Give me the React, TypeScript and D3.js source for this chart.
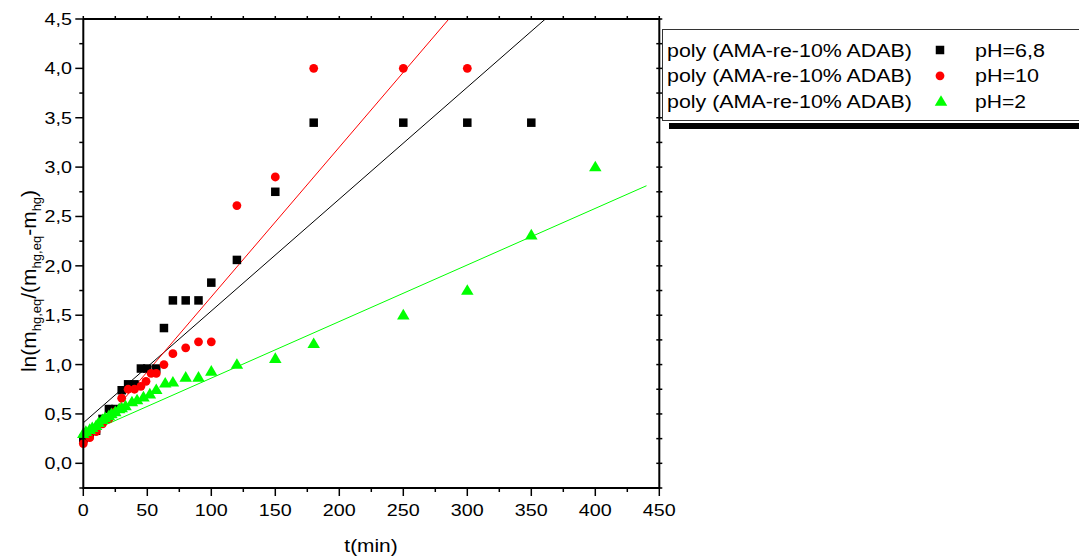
import * as d3 from 'd3';
import React from 'react';

// --------------------------------------------------------
// data
// --------------------------------------------------------
const seriesName = 'poly (AMA-re-10% ADAB)';

const tBlack = [0, 5, 10, 15, 20, 25, 30, 35, 40, 45, 50, 57, 63, 70, 80, 90, 100, 120, 150, 180, 250, 300, 350];
const vBlack = [0.25, 0.3, 0.33, 0.45, 0.55, 0.55, 0.74, 0.8, 0.8, 0.96, 0.96, 0.96, 1.37, 1.65, 1.65, 1.65, 1.83, 2.06, 2.75, 3.45, 3.45, 3.45, 3.45];

const tRed = [0, 5, 10, 15, 20, 25, 30, 35, 40, 45, 49, 53, 57, 63, 70, 80, 90, 100, 120, 150, 180, 250, 300];
const vRed = [0.2, 0.26, 0.32, 0.4, 0.45, 0.52, 0.66, 0.75, 0.75, 0.78, 0.83, 0.91, 0.91, 1.0, 1.11, 1.17, 1.23, 1.23, 2.61, 2.9, 4.0, 4.0, 4.0];

const tGreen = [0, 2, 5, 7, 10, 12, 15, 17, 20, 22, 25, 28, 30, 33, 38, 42, 47, 52, 57, 64, 70, 80, 90, 100, 120, 150, 180, 250, 300, 350, 400];
const vGreen = [0.3, 0.32, 0.34, 0.36, 0.38, 0.41, 0.44, 0.46, 0.48, 0.5, 0.52, 0.55, 0.56, 0.58, 0.62, 0.64, 0.67, 0.7, 0.745, 0.81, 0.82, 0.87, 0.87, 0.93, 1.0, 1.06, 1.21, 1.5, 1.75, 2.31, 3.0];

// linear fits: [intercept, slope, t end]
const fitBlack = [0.41, 0.01133, 450];
const fitRed = [0.17, 0.01516, 450];
const fitGreen = [0.29, 0.00573, 440];

const xTicks = [0, 50, 100, 150, 200, 250, 300, 350, 400, 450];
const yTicks = [0, 0.5, 1, 1.5, 2, 2.5, 3, 3.5, 4, 4.5];
const phLabels = ['pH=6,8', 'pH=10', 'pH=2'];
const phWidths = [70, 64, 51];

const FONT = 'Arial, "Liberation Sans", sans-serif';
const SX = 1.16; // the original text is rendered a bit wider than Arial

const x = d3.scaleLinear().domain([0, 450]).range([83.3, 659.3]);
const y = d3.scaleLinear().domain([-0.25, 4.5]).range([488, 19]);

const fmt = (v: number) => d3.format('.1f')(v).replace('.', ',');

// text stretched horizontally around its anchor
function T({ x: tx, y: ty, anchor = 'start', size = 17, children }: any) {
  return (
    <text transform={`translate(${tx},${ty}) scale(${SX},1)`} textAnchor={anchor}
      fontFamily={FONT} fontSize={size} fill="#000">{children}</text>
  );
}

function Square({ cx, cy, s = 8.5, fill = '#000' }: any) {
  return <rect x={cx - s / 2} y={cy - s / 2} width={s} height={s} fill={fill} />;
}
function Circle({ cx, cy, r = 4.4, fill = '#ff0000' }: any) {
  return <circle cx={cx} cy={cy} r={r} fill={fill} />;
}
function Tri({ cx, cy, s = 12.5, fill = '#00ff00' }: any) {
  const h = s * 0.85;
  return <path d={`M${cx},${cy - h * 0.6}L${cx + s / 2},${cy + h * 0.4}L${cx - s / 2},${cy + h * 0.4}Z`} fill={fill} />;
}

// fitted line, clipped at the top of the plot
function FitLine({ fit, color }: any) {
  const [a, b, tEnd] = fit;
  const tTop = (4.5 - a) / b;
  const t1 = Math.min(tEnd, tTop);
  return <line x1={x(0)} y1={y(a)} x2={x(t1)} y2={y(a + b * t1)} stroke={color} strokeWidth={1} />;
}

export default function App() {
  const xMinor = d3.range(0, 451, 25);
  const yMinor = d3.range(-0.25, 4.51, 0.25);
  const [x0, x1] = x.range();
  const [yb, yt] = y.range();

  return (
    <svg width={1079} height={556} style={{ position: 'absolute', left: 0, top: 0, background: '#fff' }}>
      {/* fit lines */}
      <FitLine fit={fitBlack} color="#000" />
      <FitLine fit={fitRed} color="#ff0000" />
      <FitLine fit={fitGreen} color="#00ff00" />

      {/* points */}
      {tBlack.map((t, i) => <Square key={'b' + i} cx={x(t)} cy={y(vBlack[i])} />)}
      {tRed.map((t, i) => <Circle key={'r' + i} cx={x(t)} cy={y(vRed[i])} />)}
      {tGreen.map((t, i) => <Tri key={'g' + i} cx={x(t)} cy={y(vGreen[i])} />)}

      {/* frame */}
      <g stroke="#000" strokeWidth={2} fill="none">
        <line x1={x0} y1={yb} x2={x1 + 1} y2={yb} />
        <line x1={x0} y1={yb + 1} x2={x0} y2={yt} />
        <line x1={x0} y1={yt} x2={x1 + 1} y2={yt} />
        <line x1={x1} y1={yt} x2={x1} y2={yb} />
      </g>

      {/* ticks */}
      <g stroke="#000" strokeWidth={1.5}>
        {xMinor.map((t) => {
          const major = t % 50 === 0;
          return <line key={'xt' + t} x1={x(t)} x2={x(t)} y1={yb} y2={yb + (major ? 8 : 4)} />;
        })}
        {xMinor.map((t) => <line key={'xtt' + t} x1={x(t)} x2={x(t)} y1={yt} y2={yt - 3} />)}
        {yMinor.map((v) => {
          const major = Math.abs(Math.round(v * 2) - v * 2) < 1e-6;
          return <line key={'yt' + v} x1={x0} x2={x0 - (major ? 8 : 4)} y1={y(v)} y2={y(v)} />;
        })}
        {yMinor.map((v) => <line key={'ytr' + v} x1={x1 - 3} x2={x1 + 3} y1={y(v)} y2={y(v)} />)}
      </g>

      {/* tick labels */}
      {xTicks.map((t) => (
        <T key={'xl' + t} x={x(t)} y={516} anchor="middle">{t}</T>
      ))}
      {yTicks.map((v) => (
        <T key={'yl' + v} x={72} y={y(v) + 6} anchor="end">{fmt(v)}</T>
      ))}

      {/* axis titles */}
      <T x={371} y={552} anchor="middle" size={18}>t(min)</T>
      <text transform="translate(36,281) rotate(-90)" textAnchor="middle" fontFamily={FONT} fontSize={21}>
        ln(m<tspan fontSize={13} dy={5}>hg,eq</tspan>
        <tspan dy={-5}>/(m</tspan><tspan fontSize={13} dy={5}>hg,eq</tspan>
        <tspan dy={-5}>-m</tspan><tspan fontSize={13} dy={5}>hg</tspan>
        <tspan dy={-5}>)</tspan>
      </text>

      {/* legend */}
      <rect x={669} y={123} width={412} height={6} fill="#000" />
      <rect x={662.5} y={29.5} width={420} height={91} fill="#fff" stroke="#333" strokeWidth={1} />
      <g fontFamily={FONT} fontSize={18} fill="#000">
        {phLabels.map((p, i) => {
          const cy = 50 + i * 25.8;
          return (
            <g key={'lg' + i}>
              <text x={667} y={cy + 6.5} textLength={245} lengthAdjust="spacingAndGlyphs">{seriesName}</text>
              <text x={975} y={cy + 6.5} textLength={phWidths[i]} lengthAdjust="spacingAndGlyphs">{p}</text>
            </g>
          );
        })}
      </g>
      <Square cx={940} cy={50} />
      <Circle cx={940} cy={75.8} />
      <Tri cx={941} cy={101.6} />
    </svg>
  );
}
